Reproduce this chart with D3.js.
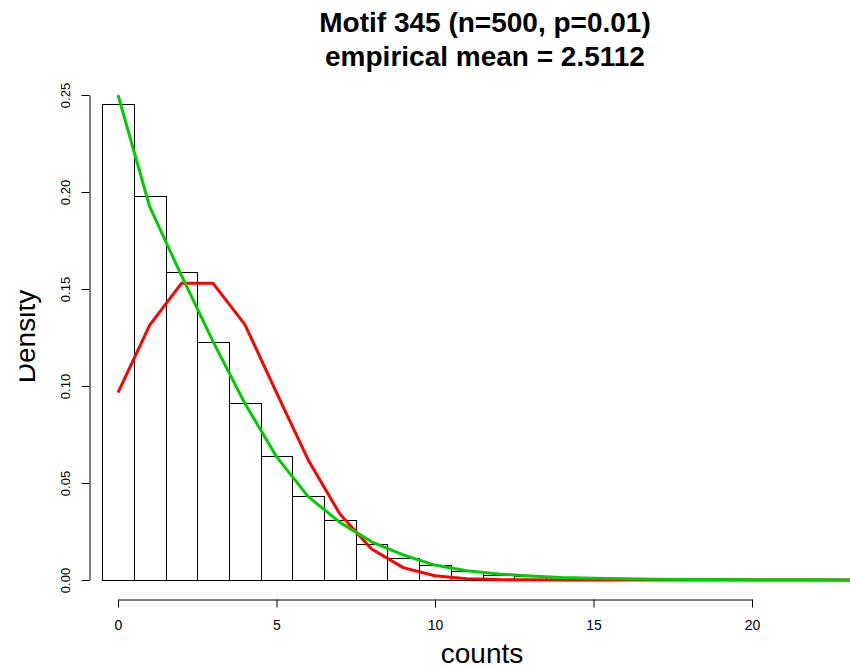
<!DOCTYPE html>
<html><head><meta charset="utf-8">
<script src="https://cdn.jsdelivr.net/npm/d3@7"></script>
<style>body{margin:0;background:#fff}svg{display:block}text{font-family:"Liberation Sans",Arial,Helvetica,sans-serif}</style>
</head><body>
<script>
const titleLines = ["Motif 345 (n=500, p=0.01)", "empirical mean = 2.5112"];
const xLabel = "counts", yLabel = "Density";
const binStarts = [-0.5,0.5,1.5,2.5,3.5,4.5,5.5,6.5,7.5,8.5,9.5,10.5,11.5,12.5];
const binDensity = [0.2452,0.198,0.1589,0.1227,0.0911,0.0638,0.0431,0.0309,0.0184,0.0115,0.0076,0.0048,0.0026,0.0022];
const curveX = [0,1,2,3,4,5,6,7,8,9,10,11,12,13,14,15,16,17,18,19,20,21,22,23,24];
const redY = [0.0966,0.1314,0.1529,0.1529,0.1318,0.0966,0.0619,0.0340,0.0160,0.0064,0.0022,0.0007,0.0002,0.0001,0,0,0,0,0,0,0,0,0,0,0];
const greenY = [0.25,0.1924,0.157,0.1229,0.0911,0.0636,0.0430,0.0297,0.0197,0.0129,0.0077,0.0048,0.0031,0.0021,0.0013,0.0009,0.0006,0.0004,0.0003,0.0002,0.0001,0.0001,0.0001,0,0];
const xTicks = [0,5,10,15,20];
const yTicks = [0,0.05,0.10,0.15,0.20,0.25];

const W=850,H=667;
const svg=d3.select("body").append("svg").attr("width",W).attr("height",H);
const x=d3.scaleLinear().domain([0,20]).range([118,752]);
const y=d3.scaleLinear().domain([0,0.25]).range([580,95]);

// bars
svg.append("g").selectAll("rect").data(binStarts).join("rect")
  .attr("x",d=>Math.round(x(d))+0.5)
  .attr("y",(d,i)=>Math.round(y(binDensity[i]))+0.5)
  .attr("width",d=>Math.round(x(d+1))-Math.round(x(d)))
  .attr("height",(d,i)=>Math.round(y(0))-Math.round(y(binDensity[i])))
  .attr("fill","none").attr("stroke","#000").attr("stroke-width",1);

const line=d3.line().x(d=>x(d[0])).y(d=>y(d[1]));
svg.append("path").datum(curveX.map((v,i)=>[v,redY[i]])).attr("d",line)
  .attr("fill","none").attr("stroke","#ff0000").attr("stroke-width",3).attr("stroke-linejoin","round");
svg.append("path").datum(curveX.map((v,i)=>[v,greenY[i]])).attr("d",line)
  .attr("fill","none").attr("stroke","#00cd00").attr("stroke-width",3).attr("stroke-linejoin","round");

// x axis
const xa=svg.append("g").attr("transform","translate(0,599.5)");
xa.call(d3.axisBottom(x).tickValues(xTicks).tickSize(8).tickSizeOuter(0).tickFormat(d3.format("d")));
xa.select(".domain").attr("stroke","#000");
xa.selectAll("text").attr("font-size",14).attr("fill","#000").attr("dy",null).attr("y",30)
  .style("font-family","Liberation Sans, Arial, sans-serif");

// y axis
const ya=svg.append("g").attr("transform","translate(89.5,0)");
ya.call(d3.axisLeft(y).tickValues(yTicks).tickSize(8).tickSizeOuter(0).tickFormat(d3.format(".2f")));
ya.select(".domain").attr("stroke","#000");
ya.selectAll(".tick text").attr("font-size",13).attr("fill","#000")
  .attr("x",null).attr("dy",null).attr("text-anchor","middle")
  .attr("transform","translate(-20,0) rotate(-90)")
  .style("font-family","Liberation Sans, Arial, sans-serif");

// titles
svg.append("g").selectAll("text").data(titleLines).join("text")
  .attr("x",485).attr("y",(d,i)=>32+i*33.5).attr("text-anchor","middle")
  .attr("font-size",28).attr("font-weight","bold").attr("fill","#000").text(d=>d);

svg.append("text").attr("x",482).attr("y",663).attr("text-anchor","middle")
  .attr("font-size",28).attr("fill","#000").text(xLabel);

svg.append("defs").append("clipPath").attr("id","ylc").append("rect")
  .attr("x",19.5).attr("y",0).attr("width",100).attr("height",H);
svg.append("g").attr("clip-path","url(#ylc)").append("text")
  .attr("transform","translate(35,336.5) rotate(-90)").attr("text-anchor","middle")
  .attr("font-size",28).attr("fill","#000").text(yLabel);
</script>
</body></html>
